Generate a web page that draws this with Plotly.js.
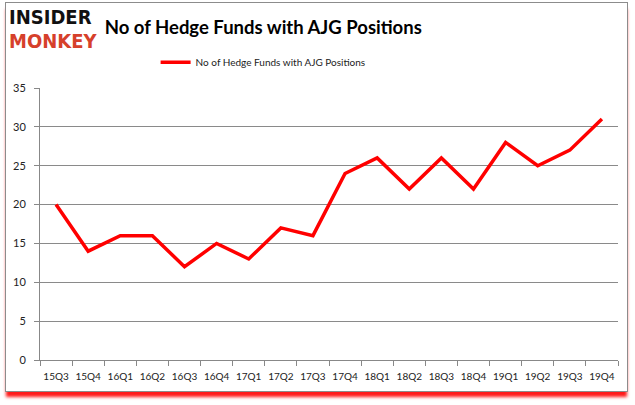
<!DOCTYPE html>
<html>
<head>
<meta charset="utf-8">
<script src="https://cdn.plot.ly/plotly-3.0.1.min.js"></script>
<style>
  body { margin: 0; background: #fff; }
  #frame {
    position: absolute; left: 5px; top: 2px; width: 621px; height: 388px;
    border: 1px solid #8c8c8c; background: #fff;
    box-shadow: 0 6px 3px -1px #ff1a1a;
  }
  #chart { position: absolute; left: 0; top: 0; width: 635px; height: 405px; }
</style>
</head>
<body>
<div id="frame"></div>
<div id="chart"></div>
<script>
var quarters = ["15Q3","15Q4","16Q1","16Q2","16Q3","16Q4","17Q1","17Q2","17Q3",
                "17Q4","18Q1","18Q2","18Q3","18Q4","19Q1","19Q2","19Q3","19Q4"];
var funds = [20, 14, 16, 16, 12, 15, 13, 17, 16, 24, 26, 22, 26, 22, 28, 25, 27, 31];
var seriesName = "No of Hedge Funds with AJG Positions";
var yTicks = [0, 5, 10, 15, 20, 25, 30, 35];

var data = [{
    x: quarters,
    y: funds,
    type: "scatter",
    mode: "lines",
    name: seriesName,
    line: {color: "#ff0000", width: 3.5}
}];

var layout = {
    width: 635,
    height: 405,
    margin: {l: 40, r: 17, t: 88, b: 45},
    paper_bgcolor: "rgba(0,0,0,0)",
    plot_bgcolor: "rgba(0,0,0,0)",
    font: {family: "Lato, 'Open Sans', sans-serif", size: 11, color: "#222"},
    title: {
        text: "No of Hedge Funds with AJG Positions",
        font: {family: "Lato, 'Open Sans', sans-serif", size: 18.5, color: "#000", weight: "bold"},
        x: 0.165, xanchor: "left", xref: "container",
        y: 0.931, yanchor: "middle", yref: "container"
    },
    showlegend: true,
    legend: {
        orientation: "h", x: 0.386, xanchor: "center", y: 1.095, yanchor: "middle",
        font: {size: 10, color: "#222"}
    },
    xaxis: {
        type: "category",
        range: [-0.5, quarters.length - 0.5],
        tickson: "boundaries",
        tickangle: 0,
        ticks: "outside", ticklen: 5, tickcolor: "#888",
        ticklabelstandoff: 7,
        showline: true, linecolor: "#888", linewidth: 1,
        showgrid: false, zeroline: false,
        tickfont: {size: 10, color: "#222"}
    },
    yaxis: {
        range: [0, 35],
        tickvals: yTicks,
        showline: true, linecolor: "#888", linewidth: 1,
        ticks: "outside", ticklen: 5, tickcolor: "#888",
        ticklabelstandoff: 6,
        showgrid: true, gridcolor: "#8a8a8a", gridwidth: 1,
        zeroline: false,
        tickfont: {size: 11, color: "#222"}
    },
    annotations: [
        {text: "INSIDER", xref: "paper", yref: "paper", x: -0.057, y: 1.26,
         xanchor: "left", yanchor: "middle", showarrow: false,
         font: {family: "'DejaVu Sans Condensed', 'DejaVu Sans', sans-serif", size: 20, color: "#111", weight: "bold"}},
        {text: "MONKEY", xref: "paper", yref: "paper", x: -0.057, y: 1.172,
         xanchor: "left", yanchor: "middle", showarrow: false,
         font: {family: "'DejaVu Sans Condensed', 'DejaVu Sans', sans-serif", size: 20, color: "#d6402b", weight: "bold"}}
    ]
};

Plotly.newPlot("chart", data, layout, {displayModeBar: false});
</script>
</body>
</html>
